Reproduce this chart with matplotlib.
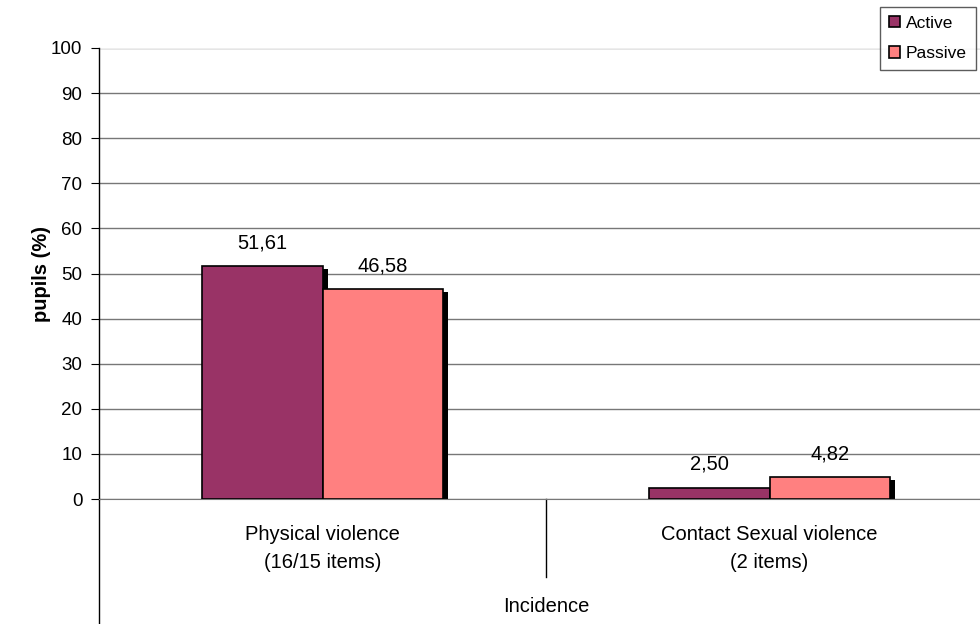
import matplotlib.pyplot as plt
import matplotlib.transforms as mtransforms
import numpy as np

plt.rcParams['font.family'] = ['Liberation Sans', 'DejaVu Sans']

categories = ['Physical violence\n(16/15 items)', 'Contact Sexual violence\n(2 items)']
series = ['Active', 'Passive']
active = [51.61, 2.50]
passive = [46.58, 4.82]
colors = ['#993366', '#FF8080']

fig = plt.figure(figsize=(9.8, 6.24), dpi=100)
ax = fig.add_axes([99/980, (624-499)/624, (993-99)/980, (499-48)/624])

x = np.arange(len(categories))
w = 0.27
shadow_dx, shadow_dy = 5/100*72, -3/100*72  # points

bars = []
for i, (vals, c) in enumerate(zip([active, passive], colors)):
    pos = x + (i - 0.5) * w
    # drop shadow
    sh = mtransforms.offset_copy(ax.transData, fig=fig, x=shadow_dx, y=shadow_dy, units='points')
    for p, v in zip(pos, vals):
        ax.bar(p, v, w, bottom=0, color='black', linewidth=0, transform=sh, zorder=2, clip_on=True)
    b = ax.bar(pos, vals, w, color=c, edgecolor='black', linewidth=1.2, zorder=3, label=series[i])
    bars.append(b)
    for p, v in zip(pos, vals):
        ax.annotate(f'{v:.2f}'.replace('.', ','), (p, v), xytext=(0, 10), textcoords='offset points',
                    ha='center', va='bottom', fontsize=14.5)

ax.set_xlim(-0.5, 1.5)
ax.set_ylim(0, 100)
ax.set_yticks(range(0, 101, 10))
ax.yaxis.grid(True, color='#777777', linewidth=1)
ax.set_axisbelow(True)
ax.tick_params(axis='y', length=6, direction='out', labelsize=13.5, pad=6)
ax.set_xticks([])
for s in ['top', 'right']:
    ax.spines[s].set_visible(False)
ax.spines['bottom'].set_color('#777777')
ax.spines['left'].set_linewidth(1)
ax.axhline(100, color='#eeeeee', linewidth=1, zorder=1)

# extended left axis line and category separator
trans = mtransforms.blended_transform_factory(ax.transData, ax.transAxes)
ax.plot([-0.5, -0.5], [0, -125/451], color='black', linewidth=1, transform=trans, clip_on=False)
ax.plot([0.5, 0.5], [0, -78/451], color='black', linewidth=1, transform=trans, clip_on=False)

for xi, lab in zip(x, categories):
    ax.text(xi, -49.5/451, lab, transform=trans, ha='center', va='center', fontsize=14.5, linespacing=1.55)

ax.text(0.5, -108/451, 'Incidence', transform=trans, ha='center', va='center', fontsize=14.5)
ax.set_ylabel('pupils (%)', fontsize=14.5, fontweight='bold', labelpad=0)

leg = fig.legend(handles=bars, labels=series, loc='upper left', bbox_to_anchor=(880/980, 1 - 7/624),
                 fontsize=12.5, frameon=True, fancybox=False, edgecolor='#333333', handlelength=0.65,
                 handleheight=0.65, handletextpad=0.35, borderpad=0.5, labelspacing=0.9,
                 borderaxespad=0)
leg.get_frame().set_linewidth(1)

fig.savefig('out.png', dpi=100)
